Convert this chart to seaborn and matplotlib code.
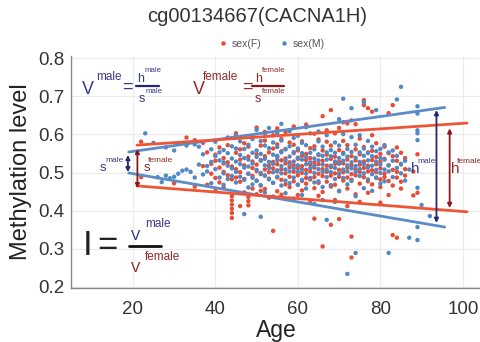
import matplotlib
matplotlib.use("Agg")
import matplotlib.pyplot as plt
import seaborn as sns
import pandas as pd
from matplotlib.lines import Line2D

# ---------------- data ----------------
f_age = [22, 22, 30, 33, 35, 35, 37, 37, 38, 38, 39, 39,
         40, 40, 40, 40, 41, 41, 41, 42, 42, 42, 42, 43, 43, 43,
         44, 44, 44, 44, 44, 44, 44, 44, 45, 45, 45, 45,
         46, 46, 46, 46, 46, 47, 47, 47, 47,
         48, 48, 48, 48, 48, 48, 49, 49, 49, 49, 49,
         50, 50, 50, 50, 50, 50, 51, 51, 51, 51, 51,
         52, 52, 52, 52, 52, 52, 53, 53, 53, 53, 53,
         54, 54, 54, 54, 54, 54, 55, 55, 55, 55, 55, 55, 55,
         56, 56, 56, 56, 56, 56, 57, 57, 57, 57, 57, 57,
         58, 58, 58, 58, 58, 58, 59, 59, 59, 59, 59, 59,
         60, 60, 60, 60, 60, 60, 60, 61, 61, 61, 61, 61, 61,
         62, 62, 62, 62, 62, 62, 63, 63, 63, 63, 63, 63,
         64, 64, 64, 64, 64, 64, 64, 65, 65, 65, 65, 65, 65,
         66, 66, 66, 66, 66, 66, 66, 67, 67, 67, 67, 67, 67,
         68, 68, 68, 68, 68, 68, 68, 69, 69, 69, 69, 69, 69,
         70, 70, 70, 70, 70, 70, 70, 71, 71, 71, 71, 71, 71,
         72, 72, 72, 72, 72, 72, 72, 73, 73, 73, 73, 73, 73, 73,
         74, 74, 74, 74, 74, 74, 75, 75, 75, 75, 75, 75,
         76, 76, 76, 76, 76, 76, 77, 77, 77, 77, 77, 77,
         78, 78, 78, 78, 78, 78, 79, 79, 79, 79, 79,
         80, 80, 80, 80, 80, 80, 81, 81, 81, 81,
         82, 82, 82, 82, 82, 83, 83, 83, 83, 83,
         84, 84, 84, 84, 84, 85, 85, 85, 85, 86, 86, 86,
         88, 88, 89, 89]
f_val = [0.581, 0.488, 0.472, 0.592, 0.585, 0.463, 0.578, 0.517, 0.468, 0.553, 0.523, 0.497,
         0.452, 0.547, 0.531, 0.486, 0.513, 0.566, 0.474, 0.502, 0.538, 0.461, 0.524, 0.572, 0.493, 0.527,
         0.381, 0.394, 0.405, 0.416, 0.427, 0.438, 0.482, 0.516, 0.509, 0.552, 0.487, 0.603,
         0.476, 0.501, 0.534, 0.561, 0.412, 0.519, 0.483, 0.577, 0.448,
         0.414, 0.425, 0.436, 0.497, 0.542, 0.568, 0.491, 0.529, 0.512, 0.458, 0.594,
         0.521, 0.548, 0.479, 0.443, 0.504, 0.618, 0.496, 0.533, 0.571, 0.466, 0.452,
         0.508, 0.492, 0.543, 0.584, 0.457, 0.607, 0.518, 0.553, 0.484, 0.501, 0.434,
         0.347, 0.473, 0.511, 0.528, 0.563, 0.598, 0.503, 0.522, 0.487, 0.541, 0.574, 0.451, 0.616,
         0.481, 0.509, 0.532, 0.556, 0.588, 0.442, 0.524, 0.498, 0.469, 0.562, 0.537, 0.606,
         0.489, 0.514, 0.527, 0.462, 0.579, 0.431, 0.502, 0.519, 0.551, 0.477, 0.573, 0.621,
         0.512, 0.536, 0.493, 0.468, 0.558, 0.597, 0.441, 0.517, 0.499, 0.544, 0.478, 0.582, 0.453,
         0.486, 0.507, 0.533, 0.549, 0.471, 0.626, 0.503, 0.521, 0.482, 0.564, 0.538, 0.424,
         0.379, 0.513, 0.488, 0.527, 0.569, 0.459, 0.602, 0.497, 0.522, 0.546, 0.473, 0.587, 0.439,
         0.306, 0.648, 0.509, 0.491, 0.531, 0.558, 0.449, 0.518, 0.502, 0.476, 0.547, 0.581, 0.611,
         0.363, 0.664, 0.514, 0.536, 0.492, 0.463, 0.571, 0.498, 0.523, 0.542, 0.468, 0.603, 0.428,
         0.378, 0.507, 0.489, 0.528, 0.559, 0.452, 0.617, 0.632, 0.501, 0.524, 0.479, 0.552, 0.583,
         0.629, 0.513, 0.534, 0.487, 0.458, 0.572, 0.412, 0.332, 0.277, 0.637, 0.496, 0.519, 0.543, 0.481,
         0.627, 0.508, 0.493, 0.532, 0.561, 0.443, 0.521, 0.502, 0.548, 0.471, 0.589, 0.423,
         0.690, 0.677, 0.512, 0.529, 0.488, 0.567, 0.669, 0.503, 0.518, 0.477, 0.553, 0.447,
         0.660, 0.506, 0.533, 0.557, 0.469, 0.598, 0.501, 0.522, 0.486, 0.541, 0.577,
         0.511, 0.482, 0.549, 0.462, 0.528, 0.421, 0.497, 0.536, 0.568, 0.488,
         0.656, 0.519, 0.478, 0.551, 0.441, 0.677, 0.336, 0.507, 0.543, 0.466,
         0.329, 0.502, 0.531, 0.566, 0.487, 0.521, 0.476, 0.552, 0.458, 0.509, 0.538, 0.492,
         0.440, 0.503, 0.447, 0.548]

m_age = [23, 25, 26, 27, 28, 28, 29, 30, 30, 31, 31, 32, 33, 33, 34, 35, 35, 36, 36,
         37, 37, 38, 38, 39, 39, 39, 40, 40, 40, 41, 41, 41, 42, 42, 42, 42,
         43, 43, 43, 43, 44, 44, 44, 44, 45, 45, 45, 45, 45, 46, 46, 46, 46,
         47, 47, 47, 47, 47, 48, 48, 48, 48, 48, 49, 49, 49, 49, 49,
         50, 50, 50, 50, 50, 51, 51, 51, 51, 51, 51, 52, 52, 52, 52, 52, 52,
         53, 53, 53, 53, 53, 54, 54, 54, 54, 54, 54, 55, 55, 55, 55, 55, 55,
         56, 56, 56, 56, 56, 56, 57, 57, 57, 57, 57, 58, 58, 58, 58, 58, 58,
         59, 59, 59, 59, 59, 59, 60, 60, 60, 60, 60, 60, 61, 61, 61, 61, 61, 61,
         62, 62, 62, 62, 62, 62, 63, 63, 63, 63, 63, 64, 64, 64, 64, 64, 64,
         65, 65, 65, 65, 65, 65, 66, 66, 66, 66, 66, 66, 67, 67, 67, 67, 67, 67,
         68, 68, 68, 68, 68, 69, 69, 69, 69, 69, 69, 70, 70, 70, 70, 70, 70,
         71, 71, 71, 71, 71, 71, 72, 72, 72, 72, 72, 72, 73, 73, 73, 73, 73, 73,
         74, 74, 74, 74, 74, 74, 75, 75, 75, 75, 75, 76, 76, 76, 76, 76, 76,
         77, 77, 77, 77, 77, 78, 78, 78, 78, 78, 79, 79, 79, 79, 79,
         80, 80, 80, 80, 80, 81, 81, 81, 81, 82, 82, 82, 82, 83, 83, 83,
         84, 84, 84, 85, 85, 85, 86, 86, 87, 87,
         89, 89, 89, 89, 89, 89, 89, 89, 90, 92]
m_val = [0.603, 0.578, 0.488, 0.475, 0.492, 0.566, 0.485, 0.489, 0.558, 0.497, 0.577, 0.505, 0.508, 0.571, 0.502, 0.574, 0.487, 0.568, 0.521,
         0.495, 0.548, 0.517, 0.503, 0.472, 0.528, 0.561, 0.543, 0.509, 0.581, 0.532, 0.487, 0.553, 0.527, 0.498, 0.559, 0.468,
         0.518, 0.551, 0.483, 0.592, 0.511, 0.537, 0.569, 0.491, 0.529, 0.502, 0.563, 0.474, 0.598, 0.522, 0.546, 0.489, 0.582,
         0.391, 0.513, 0.538, 0.481, 0.562, 0.534, 0.497, 0.573, 0.461, 0.516, 0.524, 0.552, 0.486, 0.588, 0.469,
         0.507, 0.541, 0.558, 0.478, 0.612, 0.384, 0.531, 0.499, 0.549, 0.467, 0.583, 0.519, 0.536, 0.492, 0.571, 0.448, 0.602,
         0.512, 0.528, 0.564, 0.482, 0.617, 0.523, 0.501, 0.547, 0.473, 0.579, 0.437, 0.533, 0.506, 0.544, 0.489, 0.567, 0.604,
         0.517, 0.553, 0.498, 0.466, 0.584, 0.628, 0.508, 0.532, 0.561, 0.479, 0.446, 0.521, 0.542, 0.503, 0.569, 0.472, 0.609,
         0.529, 0.511, 0.554, 0.487, 0.591, 0.432, 0.519, 0.539, 0.502, 0.563, 0.468, 0.597, 0.508, 0.534, 0.551, 0.481, 0.578, 0.441,
         0.522, 0.497, 0.541, 0.572, 0.458, 0.619, 0.527, 0.512, 0.552, 0.486, 0.603, 0.518, 0.537, 0.499, 0.561, 0.474, 0.418,
         0.509, 0.532, 0.548, 0.477, 0.582, 0.608, 0.521, 0.502, 0.544, 0.568, 0.462, 0.428, 0.376, 0.534, 0.507, 0.553, 0.488, 0.598,
         0.518, 0.543, 0.501, 0.559, 0.467, 0.512, 0.529, 0.552, 0.483, 0.579, 0.423, 0.640, 0.523, 0.497, 0.538, 0.571, 0.451,
         0.694, 0.531, 0.508, 0.549, 0.486, 0.601, 0.234, 0.519, 0.542, 0.503, 0.562, 0.469, 0.669, 0.511, 0.527, 0.554, 0.478, 0.593,
         0.289, 0.517, 0.502, 0.539, 0.573, 0.438, 0.528, 0.509, 0.553, 0.491, 0.598, 0.685, 0.522, 0.544, 0.498, 0.563, 0.459,
         0.513, 0.532, 0.551, 0.482, 0.583, 0.518, 0.496, 0.543, 0.568, 0.452, 0.664, 0.529, 0.507, 0.556, 0.487,
         0.521, 0.538, 0.499, 0.562, 0.471, 0.508, 0.534, 0.477, 0.572, 0.289, 0.519, 0.553, 0.503, 0.531, 0.488, 0.558,
         0.692, 0.512, 0.544, 0.725, 0.523, 0.498, 0.531, 0.479, 0.329, 0.508,
         0.674, 0.655, 0.611, 0.603, 0.585, 0.357, 0.323, 0.460, 0.415, 0.386]

assert len(f_age) == len(f_val) and len(m_age) == len(m_val)

# fitted envelope lines (endpoints)
m_fit_age = [19.0, 95.6]
m_upper = [0.554, 0.671]
m_lower = [0.499, 0.357]
f_fit_age = [21.0, 101.0]
f_upper = [0.572, 0.630]
f_lower = [0.465, 0.397]

# double arrows: s(male), s(female), h(male), h(female)
arrow_age = [18.8, 21.1, 93.6, 96.8]
arrow_lo = [0.501, 0.459, 0.368, 0.407]
arrow_hi = [0.546, 0.562, 0.664, 0.616]

x_ticks = [20, 40, 60, 80, 100]
y_ticks = [0.2, 0.3, 0.4, 0.5, 0.6, 0.7, 0.8]
y_tick_labels = ["0.2", "0.3", "0.4", "0.5", "0.6", "0.7", "0.8"]
legend_labels = ["sex(F)", "sex(M)"]

RED = "#EA4B35"
BLUE = "#4F89C6"
LRED = "#EE5537"
LBLUE = "#5B8CC8"
NAVY = "#262672"
DRED = "#8A1A1A"
TMALE = "#3A3A8A"
TFEM = "#922A2A"

# ---------------- figure ----------------
sns.set_theme(style="white")
plt.rcParams["font.family"] = ["Liberation Sans", "DejaVu Sans"]

W, H = 481, 342
fig = plt.figure(figsize=(W / 100, H / 100), dpi=100)
ax = fig.add_axes([71 / W, 1 - 288 / H, 410 / W, (288 - 56) / H])

df = pd.DataFrame({
    "age": f_age + m_age,
    "value": f_val + m_val,
    "sex": ["F"] * len(f_age) + ["M"] * len(m_age),
}).sort_values("age", kind="stable")

ax.grid(True, color="#EBEBEB", lw=0.8)
ax.set_axisbelow(True)

sns.scatterplot(data=df, x="age", y="value", hue="sex",
                palette={"F": RED, "M": BLUE}, s=10, linewidth=0,
                legend=False, ax=ax, zorder=3)

sns.lineplot(x=m_fit_age, y=m_upper, color=LBLUE, lw=2.0, ax=ax, zorder=4)
sns.lineplot(x=m_fit_age, y=m_lower, color=LBLUE, lw=2.0, ax=ax, zorder=4)
sns.lineplot(x=f_fit_age, y=f_upper, color=LRED, lw=2.0, ax=ax, zorder=4)
sns.lineplot(x=f_fit_age, y=f_lower, color=LRED, lw=2.0, ax=ax, zorder=4)

arrow_colors = [NAVY, DRED, NAVY, DRED]
for a, lo, hi, c in zip(arrow_age, arrow_lo, arrow_hi, arrow_colors):
    ax.annotate("", xy=(a, hi), xytext=(a, lo),
                arrowprops=dict(arrowstyle="<|-|>", color=c, lw=1.3,
                                mutation_scale=6, shrinkA=0, shrinkB=0),
                zorder=5)

ax.set_xlim(5, 104.4)
ax.set_ylim(0.197, 0.806)
ax.set_xticks(x_ticks)
ax.set_yticks(y_ticks)
ax.set_yticklabels(y_tick_labels)
ax.tick_params(axis="both", labelsize=13.5, colors="#333333", length=0)
ax.tick_params(axis="x", pad=9)
ax.tick_params(axis="y", pad=5)
for s in ["top", "right"]:
    ax.spines[s].set_visible(False)
for s in ["left", "bottom"]:
    ax.spines[s].set_color("#888888")
    ax.spines[s].set_linewidth(1.0)

ax.set_xlabel("Age", fontsize=16.5, color="#222222", labelpad=1)
ax.set_ylabel("Methylation level", fontsize=17, color="#222222", labelpad=4)

fig.text(257 / W, 1 - 16 / H, "cg00134667(CACNA1H)", fontsize=14.5,
         color="#333333", ha="center", va="center")

handles = [Line2D([], [], marker="o", ls="", color=RED, markersize=2.2),
           Line2D([], [], marker="o", ls="", color=BLUE, markersize=2.2)]
leg = fig.legend(handles, legend_labels, loc="center",
                 bbox_to_anchor=(272 / W, 1 - 44 / H), ncol=2, frameon=False,
                 fontsize=7.5, handlelength=0.8, handletextpad=0.4,
                 columnspacing=1.8, labelcolor="#555555")


def t(x, y, s, size, color, ha="left", va="baseline"):
    fig.text(x / W, 1 - y / H, s, fontsize=size, color=color, ha=ha, va=va)


def bar(x0, x1, y, color, lw=1.6):
    fig.add_artist(Line2D([x0 / W, x1 / W], [1 - y / H, 1 - y / H],
                          color=color, lw=lw, transform=fig.transFigure))


# V^male = h^male / s^male
t(82, 94, "V", 13, TMALE)
t(96, 80, "male", 8.5, TMALE)
t(122, 92, "=", 13, TMALE)
t(137, 82, "h", 9, TMALE)
t(145, 72, "male", 5.6, TMALE)
bar(136, 159, 85.5, NAVY)
t(139, 102, "s", 9, TMALE)
t(146, 93, "male", 5.6, TMALE)

# V^female = h^female / s^female
t(193, 94, "V", 13, TFEM)
t(203, 80, "female", 8.5, TFEM)
t(242, 92, "=", 13, TFEM)
t(255, 82, "h", 9, TFEM)
t(262, 72, "female", 5.6, TFEM)
bar(252, 284, 85.5, DRED)
t(255, 102, "s", 9, TFEM)
t(262, 93, "female", 5.6, TFEM)

# s labels near left arrows
t(100, 171, "s", 9.5, TMALE)
t(105, 162, "male", 6, TMALE)
t(144, 171, "s", 9.5, TFEM)
t(148, 162, "female", 6, TFEM)

# h labels near right arrows
t(411, 173, "h", 11, TMALE)
t(417, 163, "male", 6, TMALE)
t(451, 173, "h", 11, TFEM)
t(457, 163, "female", 6, TFEM)

# I = V^male / V^female
t(83, 255, "I", 25, "#222222")
t(97, 255, "=", 25, "#222222")
bar(129, 161, 246, "#111111", lw=2.0)
t(131, 240, "V", 10, NAVY)
t(145, 227, "male", 8.5, TMALE)
t(131, 272, "V", 10, DRED)
t(145, 260, "female", 8.5, TFEM)

fig.savefig("out.png", dpi=100)
